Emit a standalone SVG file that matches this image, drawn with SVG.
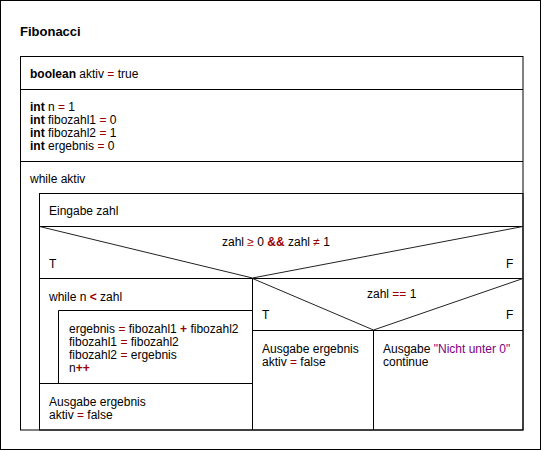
<svg xmlns="http://www.w3.org/2000/svg" width="544" height="451" viewBox="0 0 544 451">
<style>
text{font-family:"Liberation Sans",Arial,sans-serif;font-size:12px;fill:#000}
.t{font-size:13px;font-weight:bold}
.b{font-weight:bold}
.op{fill:#990000}
.ob{fill:#990000;font-weight:bold}
.s{fill:#800080}
.ln{fill:none;stroke:#000;stroke-width:1}
.dl{fill:none;stroke:#222;stroke-width:1}
</style>
<rect x="0.5" y="0.5" width="540" height="449" fill="#fff" stroke="#000"/>
<text class="t" x="20" y="36">Fibonacci</text>
<g id="outer">
<rect class="ln" x="20.5" y="56.5" width="502.5" height="373.5"/>
</g>
<g id="decl1">
<line class="ln" x1="20.5" y1="89.5" x2="523" y2="89.5"/>
<text x="30" y="78"><tspan class="b">boolean</tspan> aktiv <tspan class="op">=</tspan> true</text>
</g>
<g id="decl2">
<line class="ln" x1="20.5" y1="161.5" x2="523" y2="161.5"/>
<text x="30" y="111"><tspan class="b">int</tspan> n <tspan class="op">=</tspan> 1</text>
<text x="30" y="124"><tspan class="b">int</tspan> fibozahl1 <tspan class="op">=</tspan> 0</text>
<text x="30" y="137"><tspan class="b">int</tspan> fibozahl2 <tspan class="op">=</tspan> 1</text>
<text x="30" y="150"><tspan class="b">int</tspan> ergebnis <tspan class="op">=</tspan> 0</text>
</g>
<g id="while-aktiv">
<text x="30" y="183">while aktiv</text>
<rect class="ln" x="39.5" y="193.5" width="483.5" height="236.5"/>
</g>
<g id="eingabe">
<line class="ln" x1="39.5" y1="226.5" x2="523" y2="226.5"/>
<text x="49" y="215">Eingabe zahl</text>
</g>
<g id="decision1">
<polyline class="dl" points="39.5,226.5 252.5,278 523,226.5"/>
<line class="ln" x1="39.5" y1="278.5" x2="523" y2="278.5"/>
<text x="222" y="245.5">zahl <tspan class="op">≥</tspan> 0 <tspan class="ob">&amp;&amp;</tspan> zahl <tspan class="op">≠</tspan> 1</text>
<text x="49" y="268">T</text>
<text x="506" y="268">F</text>
<line class="ln" x1="252.5" y1="278.5" x2="252.5" y2="430"/>
</g>
<g id="while-n">
<text x="49" y="300.5">while n <tspan class="ob">&lt;</tspan> zahl</text>
<polyline class="ln" points="58.5,383.5 58.5,310.5 252.5,310.5"/>
<line class="ln" x1="39.5" y1="383.5" x2="252.5" y2="383.5"/>
</g>
<g id="loop-body">
<text x="69" y="333"><tspan>ergebnis </tspan><tspan class="op">=</tspan> fibozahl1 <tspan class="ob">+</tspan> fibozahl2</text>
<text x="69" y="346">fibozahl1 <tspan class="op">=</tspan> fibozahl2</text>
<text x="69" y="359">fibozahl2 <tspan class="op">=</tspan> ergebnis</text>
<text x="69" y="372">n<tspan class="ob">++</tspan></text>
</g>
<g id="ausgabe1">
<text x="49" y="406">Ausgabe ergebnis</text>
<text x="49" y="419">aktiv <tspan class="op">=</tspan> false</text>
</g>
<g id="decision2">
<polyline class="dl" points="252.5,278.5 373.5,330 523,278.5"/>
<line class="ln" x1="252.5" y1="330.5" x2="523" y2="330.5"/>
<line class="ln" x1="373.5" y1="330.5" x2="373.5" y2="430"/>
<text x="367" y="297.5">zahl <tspan class="op">==</tspan> 1</text>
<text x="262" y="318.5">T</text>
<text x="506" y="318.5">F</text>
</g>
<g id="ausgabe2">
<text x="262" y="353">Ausgabe ergebnis</text>
<text x="262" y="365.5">aktiv <tspan class="op">=</tspan> false</text>
</g>
<g id="ausgabe3">
<text x="383" y="353">Ausgabe <tspan class="s">"Nicht unter 0"</tspan></text>
<text x="383" y="365.5">continue</text>
</g>
</svg>
